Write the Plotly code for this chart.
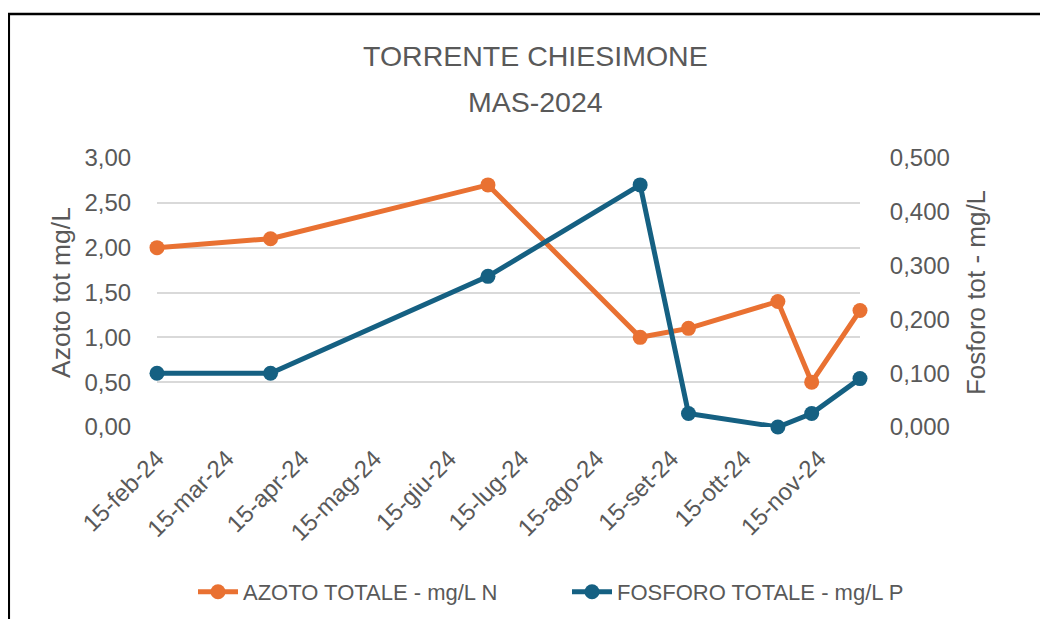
import plotly.graph_objects as go

dates = ["2024-02-15", "2024-04-02", "2024-07-01", "2024-09-02",
         "2024-09-22", "2024-10-29", "2024-11-12", "2024-12-02"]
azoto = [2.00, 2.10, 2.70, 1.00, 1.10, 1.40, 0.50, 1.30]
fosforo = [0.100, 0.100, 0.280, 0.450, 0.025, 0.000, 0.025, 0.090]

tick_dates = ["2024-02-15", "2024-03-15", "2024-04-15", "2024-05-15", "2024-06-15",
              "2024-07-15", "2024-08-15", "2024-09-15", "2024-10-15", "2024-11-15"]
tick_labels = ["15-feb-24", "15-mar-24", "15-apr-24", "15-mag-24", "15-giu-24",
               "15-lug-24", "15-ago-24", "15-set-24", "15-ott-24", "15-nov-24"]

ORANGE = "#E97132"
BLUE = "#156082"
TXT = "#595959"
FONT = "Liberation Sans"

fig = go.Figure()
fig.add_trace(go.Scatter(
    x=dates, y=azoto, name="AZOTO TOTALE - mg/L N", mode="lines+markers",
    line=dict(color=ORANGE, width=5), marker=dict(color=ORANGE, size=15),
    cliponaxis=False, yaxis="y", legend="legend"))
fig.add_trace(go.Scatter(
    x=dates, y=fosforo, name="FOSFORO TOTALE - mg/L P", mode="lines+markers",
    line=dict(color=BLUE, width=5), marker=dict(color=BLUE, size=15),
    cliponaxis=False, yaxis="y2", legend="legend2"))

# page offset (body margin) compensation
O = 8
W, H = 1048, 619
L = 157 - O
T = 158 - O
R = W - (860 - O)
B = H - (427 - O)
pw = W - L - R
ph = H - T - B

def px(x):
    # page pixels -> paper coordinate
    return (x - O - L) / pw

def py(y):
    return (H - B - (y - O)) / ph

def cx(x):
    return (x - O) / W

def cy(y):
    return 1 - (y - O) / H

leg_common = dict(orientation="h", xref="container", yref="container",
                  xanchor="left", yanchor="middle",
                  font=dict(family=FONT, size=22, color=TXT), itemwidth=40,
                  bgcolor="rgba(0,0,0,0)")

fig.update_layout(
    width=W, height=H,
    margin=dict(l=L, r=R, t=T, b=B, autoexpand=False),
    paper_bgcolor="white", plot_bgcolor="white",
    separators=",.",
    font=dict(family=FONT, color=TXT, size=22),
    showlegend=True,
    legend=dict(leg_common, x=cx(193), y=cy(592)),
    legend2=dict(leg_common, x=cx(567), y=cy(592)),
    xaxis=dict(
        type="date", range=["2024-02-15", "2024-12-02"],
        tickmode="array", tickvals=tick_dates, ticktext=tick_labels,
        tickangle=-45, tickfont=dict(family=FONT, size=24, color=TXT),
        showgrid=False, zeroline=False, showline=False,
        ticks="outside", ticklen=7, tickcolor="rgba(0,0,0,0)"),
    yaxis=dict(
        range=[0, 3], dtick=0.5, tickformat=".2f",
        tickfont=dict(family=FONT, size=24, color=TXT),
        showgrid=True, gridcolor="#D9D9D9", gridwidth=1.5,
        zeroline=False, showline=False,
        ticks="outside", ticklen=20, tickcolor="rgba(0,0,0,0)",
        title=dict(text="Azoto tot mg/L", font=dict(family=FONT, size=26.5, color=TXT), standoff=6)),
    yaxis2=dict(
        range=[0, 0.5], dtick=0.1, tickformat=".3f", overlaying="y", side="right",
        tickfont=dict(family=FONT, size=24, color=TXT),
        showgrid=False, zeroline=False, showline=False,
        ticks="outside", ticklen=24, tickcolor="rgba(0,0,0,0)",
        title=dict(text="Fosforo tot - mg/L", font=dict(family=FONT, size=26, color=TXT), standoff=17)),
    annotations=[
        dict(text="TORRENTE CHIESIMONE", x=px(535), y=py(56), xref="paper", yref="paper",
             showarrow=False, xanchor="center", yanchor="middle",
             font=dict(family=FONT, size=28.5, color=TXT)),
        dict(text="MAS-2024", x=px(535), y=py(102), xref="paper", yref="paper",
             showarrow=False, xanchor="center", yanchor="middle",
             font=dict(family=FONT, size=28.5, color=TXT)),
    ],
    shapes=[
        dict(type="line", xref="paper", yref="paper", x0=px(8.8), x1=px(8.8), y0=py(13), y1=py(640),
             line=dict(color="black", width=2.5)),
        dict(type="line", xref="paper", yref="paper", x0=px(7), x1=px(1070), y0=py(14), y1=py(14),
             line=dict(color="black", width=2.5)),
    ],
)

fig.write_html("out.html")
